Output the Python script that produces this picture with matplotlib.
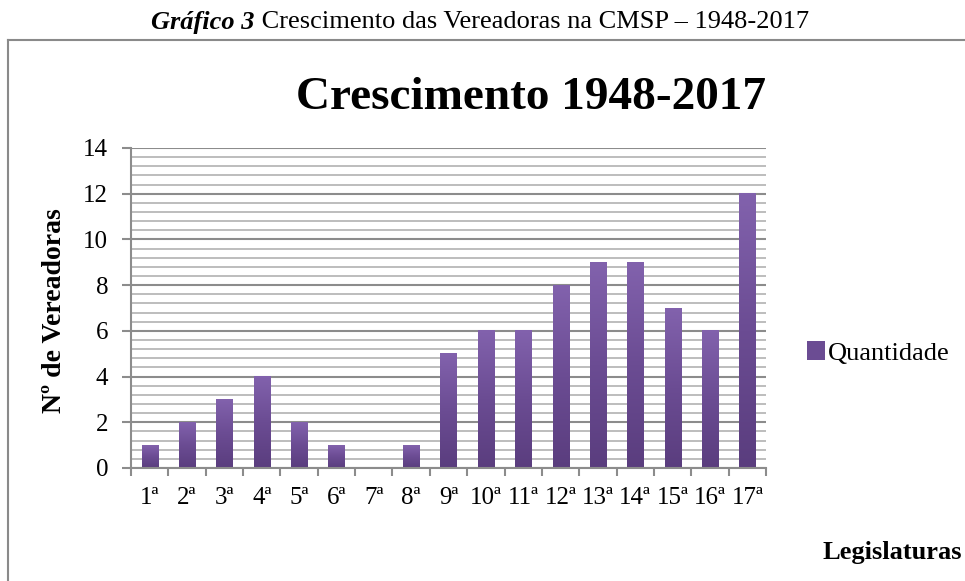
import matplotlib
matplotlib.use("Agg")
import matplotlib.pyplot as plt
import numpy as np
from matplotlib.patches import Patch
from matplotlib.colors import LinearSegmentedColormap
from matplotlib.lines import Line2D

categories = ["1ª", "2ª", "3ª", "4ª", "5ª", "6ª", "7ª", "8ª", "9ª", "10ª",
              "11ª", "12ª", "13ª", "14ª", "15ª", "16ª", "17ª"]
values = [1, 2, 3, 4, 2, 1, 0, 1, 5, 6, 6, 8, 9, 9, 7, 6, 12]
series_name = "Quantidade"
yticks = [0, 2, 4, 6, 8, 10, 12, 14]

plt.rcParams['font.family'] = ['Liberation Serif', 'DejaVu Serif']

W, H = 965, 581
fig = plt.figure(figsize=(W / 100, H / 100), dpi=100)

# caption
cap1 = fig.text(0, 0, "Gráfico 3", fontsize=19, fontweight='bold', fontstyle='italic', va='center')
cap2 = fig.text(0, 0, " Crescimento das Vereadoras na CMSP – 1948-2017", fontsize=19, va='center')
fig.canvas.draw()
r = fig.canvas.get_renderer()
w1 = cap1.get_window_extent(r).width
w2 = cap2.get_window_extent(r).width
x0 = 480 - (w1 + w2) / 2
cap1.set_position((x0 / W, 1 - 22 / H))
cap2.set_position(((x0 + w1) / W, 1 - 22 / H))

# frame
fig.add_artist(Line2D([8 / W, 1.0], [1 - 40 / H, 1 - 40 / H], color='#8a8a8a', lw=1.5))
fig.add_artist(Line2D([8 / W, 8 / W], [1 - 40 / H, 0], color='#8a8a8a', lw=1.5))

ax = fig.add_axes([131 / W, 1 - 468 / H, (766 - 131) / W, (468 - 148) / H])
n = len(categories)
x = np.arange(n)

# gridlines
for yv in np.arange(0, 14.01, 0.4):
    if abs(yv / 2 - round(yv / 2)) < 1e-6:
        continue
    ax.axhline(yv, color='#bdbdbd', lw=1.4, zorder=0)
for yv in yticks:
    ax.axhline(yv, color='#8c8c8c', lw=1.5, zorder=0.5)

cmap = LinearSegmentedColormap.from_list('g', ['#5a3d7e', '#6b4c93', '#8262ad'])
grad = np.linspace(0, 1, 256).reshape(-1, 1)
bw = 0.43
bars = ax.bar(x, values, width=bw, color='none', zorder=2)
for b, v in zip(bars, values):
    if v <= 0:
        continue
    xl = b.get_x()
    ax.imshow(grad, extent=(xl, xl + bw, 0, v), origin='lower', cmap=cmap,
              aspect='auto', zorder=2)
ax.set_xlim(-0.5, n - 0.5)
ax.set_ylim(0, 14)

for s in ['top', 'right']:
    ax.spines[s].set_visible(False)
for s in ['left', 'bottom']:
    ax.spines[s].set_color('#8c8c8c')
    ax.spines[s].set_linewidth(1.5)

ax.set_yticks(yticks)
ax.set_yticklabels([str(t) for t in yticks], fontsize=18)
ax.tick_params(axis='y', length=6.5, width=1.5, color='#8c8c8c', pad=10)

ax.set_xticks(x)
ax.set_xticklabels(categories, fontsize=18)
ax.tick_params(axis='x', which='major', length=0, pad=14)
ax.set_xticks(np.arange(-0.5, n, 1.0), minor=True)
ax.tick_params(axis='x', which='minor', length=6, width=1.5, color='#8c8c8c', direction='out')

fig.text(55 / W, 1 - 311 / H, "Nº de Vereadoras", fontsize=20, fontweight='bold',
         rotation=90, ha='center', va='center')

fig.text(531 / W, 1 - 98 / H, "Crescimento 1948-2017", fontsize=34, fontweight='bold',
         ha='center', va='center')
fig.text(892 / W, 1 - 553 / H, "Legislaturas", fontsize=19, fontweight='bold',
         ha='center', va='center')

handle = Patch(facecolor='#6b4c93', edgecolor='none')
fig.legend([handle], [series_name], loc='center left', bbox_to_anchor=(807 / W, 1 - 353 / H),
           frameon=False, fontsize=19, handlelength=0.7, handleheight=0.7,
           handletextpad=0.1, borderpad=0, borderaxespad=0)

fig.savefig("out.png", dpi=100)
